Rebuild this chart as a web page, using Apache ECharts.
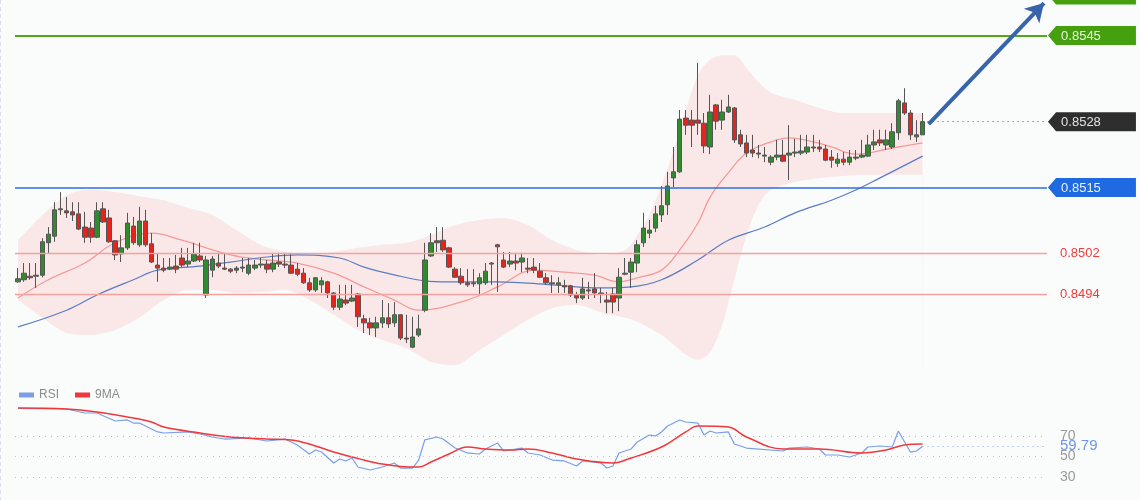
<!DOCTYPE html>
<html lang="en">
  <head>
    <meta charset="UTF-8" />
    <meta name="viewport" content="width=device-width, initial-scale=1.0" />
    <title>Candles with bands and RSI</title>
    <script src="https://cdn.jsdelivr.net/npm/echarts@6/dist/echarts.min.js"></script>
    <style>
      html,
      body {
        margin: 0;
        padding: 0;
        background: #fafcfc;
      }
      #app {
        width: 1140px;
        height: 500px;
      }
    </style>
  </head>
  <body>
    <div id="app"></div>

    <script>
      // candles, oldest first
      const open = [
        0.84964, 0.84968, 0.84975, 0.84975, 0.84977, 0.85041, 0.85054, 0.85106, 0.85104, 0.85102,
        0.85098, 0.85072, 0.8507, 0.85052, 0.85108, 0.8509, 0.85045, 0.85019, 0.85031, 0.85074,
        0.85037, 0.85084, 0.85039, 0.84997, 0.84991, 0.84989, 0.84995, 0.85011, 0.84999, 0.85005,
        0.85015, 0.84938, 0.84987, 0.85001, 0.84991, 0.84989, 0.84987, 0.84991, 0.84981, 0.84991,
        0.84997, 0.84999, 0.84989, 0.85003, 0.84999, 0.84997, 0.84989, 0.84981, 0.84962, 0.84948,
        0.84958, 0.84964, 0.84942, 0.84914, 0.84928, 0.84926, 0.8494, 0.84891, 0.84883, 0.84873,
        0.84883, 0.84893, 0.84883, 0.84899, 0.84853, 0.84835, 0.84859, 0.84908, 0.85015, 0.85045,
        0.85046, 0.85031, 0.84989, 0.84975, 0.84962, 0.84962, 0.8496, 0.84962, 0.84999, 0.85037,
        0.85007, 0.84999, 0.85005, 0.85003, 0.84991, 0.84993, 0.84985, 0.84972, 0.84962, 0.84958,
        0.84956, 0.84956, 0.84938, 0.84932, 0.84948, 0.8495, 0.84942, 0.84928, 0.8494, 0.84932,
        0.84979, 0.84983, 0.85001, 0.85041, 0.8506, 0.8507, 0.85096, 0.85116, 0.85169, 0.85181,
        0.85287, 0.85283, 0.85283, 0.85277, 0.8523, 0.85313, 0.85283, 0.85299, 0.85307, 0.85254,
        0.85238, 0.85224, 0.85218, 0.85214, 0.852, 0.8521, 0.85214, 0.85214, 0.85218, 0.85218,
        0.8522, 0.85228, 0.8523, 0.85226, 0.8521, 0.85198, 0.85206, 0.852, 0.85208, 0.8521,
        0.85212, 0.85234, 0.85244, 0.85234, 0.8523, 0.85258, 0.85317, 0.85297, 0.8525, 0.85254,
      ];
      const close = [
        0.8497, 0.84981, 0.84972, 0.84977, 0.85043, 0.85058, 0.85106, 0.85108, 0.851, 0.85096,
        0.85068, 0.85052, 0.85052, 0.85104, 0.85082, 0.85043, 0.85017, 0.85031, 0.8508, 0.85041,
        0.85084, 0.85037, 0.85003, 0.84991, 0.84987, 0.84993, 0.84989, 0.84997, 0.85005, 0.85019,
        0.85007, 0.85007, 0.85009, 0.84995, 0.84989, 0.84985, 0.84991, 0.84993, 0.84997, 0.84997,
        0.84999, 0.84989, 0.85001, 0.84999, 0.84997, 0.84981, 0.84979, 0.84962, 0.84948, 0.84972,
        0.84966, 0.84942, 0.84914, 0.8493, 0.84922, 0.84932, 0.84895, 0.84883, 0.84873, 0.84883,
        0.84893, 0.84881, 0.84899, 0.84853, 0.84851, 0.84855, 0.84871, 0.85007, 0.85041, 0.85041,
        0.85027, 0.84993, 0.84973, 0.84962, 0.84958, 0.8496, 0.84972, 0.84985, 0.85001, 0.85033,
        0.84993, 0.85005, 0.85001, 0.85011, 0.84989, 0.84987, 0.84973, 0.84962, 0.8496, 0.84962,
        0.84954, 0.84938, 0.84932, 0.8495, 0.84946, 0.84942, 0.8494, 0.84924, 0.84924, 0.84973,
        0.84981, 0.85003, 0.85037, 0.8507, 0.85066, 0.85098, 0.85114, 0.85153, 0.85181, 0.85285,
        0.85273, 0.85273, 0.85277, 0.85232, 0.85299, 0.85281, 0.85299, 0.85309, 0.85244, 0.85236,
        0.85218, 0.85218, 0.85216, 0.85212, 0.8521, 0.85214, 0.85202, 0.85218, 0.8522, 0.85222,
        0.8523, 0.8523, 0.85226, 0.85204, 0.85204, 0.85206, 0.852, 0.8521, 0.8521, 0.85214,
        0.85234, 0.8524, 0.85238, 0.85244, 0.8526, 0.85321, 0.85297, 0.85254, 0.85254, 0.8528,
      ];
      const low = [
        0.84962, 0.84964, 0.84968, 0.84952, 0.84973, 0.85021, 0.85043, 0.85096, 0.8509, 0.85084,
        0.85066, 0.85041, 0.85041, 0.8505, 0.8508, 0.85041, 0.85007, 0.85003, 0.85027, 0.85037,
        0.85033, 0.85033, 0.85001, 0.84964, 0.84983, 0.84987, 0.84981, 0.84993, 0.84993, 0.85003,
        0.85003, 0.84932, 0.84973, 0.84991, 0.84987, 0.84981, 0.84981, 0.84983, 0.84977, 0.84987,
        0.84991, 0.84981, 0.84983, 0.84993, 0.84991, 0.84979, 0.84975, 0.8496, 0.84944, 0.84944,
        0.84942, 0.84932, 0.84908, 0.84908, 0.84918, 0.84924, 0.84875, 0.84863, 0.84859, 0.84855,
        0.84873, 0.84873, 0.84875, 0.84849, 0.84843, 0.84833, 0.84855, 0.84904, 0.85013, 0.85023,
        0.85023, 0.84991, 0.84972, 0.84958, 0.84954, 0.84954, 0.8494, 0.84958, 0.84958, 0.84944,
        0.84991, 0.84993, 0.84987, 0.84983, 0.84981, 0.84981, 0.84972, 0.84958, 0.84942, 0.84942,
        0.84942, 0.84934, 0.84922, 0.84928, 0.8493, 0.84932, 0.84922, 0.84902, 0.84902, 0.84906,
        0.84977, 0.84952, 0.84983, 0.85033, 0.8505, 0.85062, 0.85082, 0.85096, 0.85151, 0.85179,
        0.85254, 0.8523, 0.85254, 0.85218, 0.85216, 0.85264, 0.85264, 0.85297, 0.85238, 0.8523,
        0.8521, 0.8521, 0.85208, 0.852, 0.85194, 0.85204, 0.852, 0.85165, 0.8521, 0.85214,
        0.85216, 0.8522, 0.8522, 0.85202, 0.85189, 0.85191, 0.85194, 0.85194, 0.85204, 0.85208,
        0.8521, 0.85224, 0.85232, 0.85224, 0.85226, 0.85244, 0.85293, 0.85244, 0.8524, 0.85254,
      ];
      const high = [
        0.84991, 0.85001, 0.85001, 0.85001, 0.8505, 0.85072, 0.85121, 0.85141, 0.85131, 0.85121,
        0.85121, 0.85102, 0.85082, 0.85121, 0.85121, 0.85106, 0.85046, 0.85056, 0.851, 0.85092,
        0.85112, 0.85106, 0.8506, 0.85019, 0.85011, 0.85011, 0.85017, 0.85031, 0.85031, 0.85041,
        0.85041, 0.85015, 0.85015, 0.85021, 0.85021, 0.84991, 0.84995, 0.85011, 0.85011, 0.85007,
        0.85011, 0.85007, 0.85021, 0.85021, 0.85021, 0.85021, 0.85001, 0.84991, 0.84972, 0.84973,
        0.84973, 0.84966, 0.84944, 0.84958, 0.84958, 0.84958, 0.84942, 0.84899, 0.84893, 0.84895,
        0.84928, 0.84922, 0.84924, 0.849, 0.84899, 0.84895, 0.84899, 0.85041, 0.8506, 0.85072,
        0.85072, 0.85033, 0.84993, 0.84991, 0.84989, 0.84989, 0.84981, 0.85001, 0.85003, 0.85039,
        0.85023, 0.85023, 0.85021, 0.85021, 0.85011, 0.85011, 0.85001, 0.84981, 0.84977, 0.84973,
        0.84968, 0.84958, 0.84944, 0.84972, 0.84964, 0.84981, 0.84952, 0.84944, 0.84952, 0.84991,
        0.85011, 0.85011, 0.85046, 0.851, 0.85086, 0.85114, 0.85153, 0.85181, 0.8523, 0.85303,
        0.85303, 0.85303, 0.85396, 0.85297, 0.85333, 0.85315, 0.85323, 0.85333, 0.85309, 0.85264,
        0.85254, 0.85254, 0.85234, 0.8523, 0.85214, 0.85244, 0.85244, 0.85273, 0.85246, 0.85254,
        0.85254, 0.85254, 0.85244, 0.85234, 0.85224, 0.85218, 0.8522, 0.85224, 0.85224, 0.85244,
        0.85254, 0.85264, 0.85264, 0.85264, 0.85277, 0.85325, 0.85346, 0.85303, 0.85283, 0.85297,
      ];

      // bollinger band read at every few candles
      const bandIdx = [
        0, 4, 8, 12, 16, 20, 24, 28, 32, 36, 40, 44, 48, 52, 56, 60, 64, 68, 72, 76, 80, 84, 88, 92,
        96, 100, 102, 104, 106, 108, 110, 112, 114, 116, 118, 120, 122, 124, 128, 132, 136, 140,
        144, 149,
      ];
      const bandUpper = [
        0.85046, 0.85096, 0.85135, 0.85145, 0.85141, 0.85133, 0.85125, 0.8511, 0.85096, 0.85066,
        0.85037, 0.85023, 0.85017, 0.85023, 0.85031, 0.85037, 0.85041, 0.85056, 0.85076, 0.85086,
        0.8509, 0.85076, 0.85046, 0.85027, 0.85017, 0.85027, 0.85056, 0.85096, 0.85155, 0.85224,
        0.85303, 0.85372, 0.85402, 0.85411, 0.85411, 0.85386, 0.85358, 0.85337, 0.85323, 0.85307,
        0.85297, 0.85297, 0.85297, 0.85297,
      ];
      const bandLower = [
        0.84928, 0.84893, 0.84863, 0.84859, 0.84869, 0.84893, 0.84928, 0.84948, 0.84948, 0.84942,
        0.84944, 0.84948, 0.84928, 0.84899, 0.84869, 0.84849, 0.84833, 0.84806, 0.848, 0.84829,
        0.84859, 0.84889, 0.84912, 0.84918, 0.84904, 0.84893, 0.84885, 0.84873, 0.84859, 0.8484,
        0.8482, 0.8481, 0.84825, 0.84879, 0.84968, 0.85056, 0.85116, 0.85145, 0.85161, 0.85169,
        0.85173, 0.85175, 0.85175, 0.85175,
      ];

      // moving averages, [candle index, price]
      const maRed = [
        [0, 0.84932], [5, 0.84968], [11, 0.85001], [16, 0.85041], [22, 0.8506], [27, 0.85046],
        [35, 0.85017], [41, 0.85007], [46, 0.85001], [52, 0.84981], [57, 0.84954], [62, 0.84928],
        [66, 0.84908], [74, 0.84928], [79, 0.84954], [85, 0.84987], [90, 0.84983], [95, 0.84977],
        [99, 0.84964], [102, 0.84972], [106, 0.84987], [109, 0.85027], [112, 0.8508], [114, 0.85131],
        [117, 0.85179], [120, 0.85218], [124, 0.8524], [127, 0.85248], [131, 0.8524], [134, 0.8523],
        [138, 0.85216], [144, 0.85228], [149, 0.85238],
      ];
      const maBlue = [
        [0, 0.84875], [8, 0.84908], [13, 0.84938], [19, 0.84968], [23, 0.84987], [30, 0.84995],
        [35, 0.85003], [41, 0.85013], [46, 0.85017], [53, 0.85011], [57, 0.84993], [63, 0.84975],
        [67, 0.84966], [71, 0.84964], [79, 0.84964], [88, 0.84958], [96, 0.84952], [101, 0.84954],
        [106, 0.84968], [112, 0.85007], [117, 0.85046], [123, 0.85072], [128, 0.851], [134, 0.85125],
        [138, 0.85145], [142, 0.85169], [149, 0.85212],
      ];

      // rsi panel, [candle index, value]
      const rsi = [
        [0, 96.8], [8, 96.1], [11, 92.2], [13, 92.2], [16, 84.4], [18, 85.4], [19, 82.4], [20, 82.4],
        [23, 73.7], [24, 72.7], [28, 73.7], [30, 71.7], [32, 68.8], [34, 66.8], [38, 67.8], [41, 64.9],
        [44, 66.8], [46, 61.0], [48, 52.2], [49, 56.1], [50, 54.1], [52, 43.4], [53, 47.3], [54, 45.4],
        [55, 48.3], [56, 39.5], [58, 36.6], [60, 39.5], [62, 43.4], [63, 38.5], [65, 38.5], [66, 46.3],
        [67, 65.9], [69, 68.8], [70, 66.8], [72, 58.0], [74, 53.2], [76, 52.2], [77, 57.1], [79, 62.9],
        [80, 55.1], [82, 57.1], [83, 58.0], [84, 53.2], [86, 51.2], [88, 46.3], [90, 45.4], [92, 40.5],
        [93, 45.4], [96, 43.4], [97, 38.5], [98, 40.5], [99, 53.2], [101, 57.1], [102, 63.9], [104, 70.7],
        [105, 69.8], [106, 73.7], [107, 79.5], [109, 85.4], [110, 83.4], [112, 82.4], [113, 70.7],
        [114, 74.6], [115, 72.7], [117, 73.7], [118, 62.0], [120, 58.0], [126, 55.1], [127, 58.0],
        [130, 59.0], [132, 57.1], [133, 51.2], [135, 51.2], [137, 49.3], [139, 53.2], [140, 59.0],
        [142, 60.0], [144, 59.0], [145, 74.6], [147, 54.1], [148, 55.1], [149, 59.79],
      ];
      const rsiMa = [
        [0, 97.1], [8, 96.1], [13, 93.2], [19, 87.3], [22, 83.4], [24, 78.5], [30, 72.7], [35, 68.8],
        [41, 66.8], [45, 65.9], [49, 60.0], [52, 54.1], [57, 46.3], [60, 42.4], [63, 40.0], [66, 39.5],
        [68, 44.4], [71, 52.2], [74, 59.0], [77, 57.1], [81, 56.1], [84, 57.1], [88, 53.2], [92, 47.3],
        [98, 43.4], [101, 48.3], [106, 59.0], [110, 73.7], [112, 79.5], [117, 78.5], [120, 68.8],
        [126, 57.1], [132, 57.1], [139, 53.2], [143, 56.1], [146, 61.0], [149, 62.0],
      ];

      // levels
      const topGreen = 0.8552;
      const resistance = 0.8545;
      const lastPrice = 0.8528;
      const blueLevel = 0.8515;
      const redLevels = [0.8502, 0.8494];
      const rsiLevels = [70, 50, 30];
      const rsiLast = 59.79;

      const slotCount = 170;
      const slots = Array.from({ length: slotCount }, (_, i) => String(i));
      const lastIdx = open.length - 1;
      const edgeIdx = slotCount - 1;
      const xStart = -0.5;
      const xEnd = slotCount - 0.5;
      const candles = open.map((o, i) => [o, close[i], low[i], high[i]]);
      const font = "'Liberation Sans', Arial, sans-serif";
      const bg = "#fafcfc";

      function tag(value, fill, textColor, dy = 0, showText = true) {
        return {
          coord: [edgeIdx, value],
          symbol: "path://M0,9 L8,0 L87,0 L87,18 L8,18 Z",
          symbolSize: [88, 19],
          symbolOffset: [48, dy],
          itemStyle: { color: fill },
          label: {
            show: showText,
            formatter: value.toFixed(4),
            color: textColor,
            fontSize: 13,
            fontFamily: font,
            offset: [-11, 1],
          },
        };
      }

      // full width horizontal line across a panel
      function level(v, lineStyle, label) {
        return [
          { coord: [xStart, v], lineStyle: lineStyle, label: label || { show: false } },
          { coord: [xEnd, v] },
        ];
      }

      function redLabel(v) {
        return {
          show: true,
          position: "end",
          distance: 13,
          formatter: v.toFixed(4),
          color: "#f23b3b",
          fontSize: 13,
          fontFamily: font,
        };
      }

      function rsiLabel(v) {
        return {
          show: true,
          position: "end",
          distance: 13,
          formatter: String(v),
          color: "#9a9a9a",
          fontSize: 14,
          fontFamily: font,
        };
      }

      const main = { left: 15, right: 93, top: 0, height: 370 };
      const lower = { left: 15, right: 93, top: 405, height: 82 };

      const option = {
        backgroundColor: bg,
        animation: false,
        textStyle: { fontFamily: font },
        grid: [main, lower],
        legend: {
          left: 14,
          top: 384,
          data: ["RSI", "9MA"],
          icon: "rect",
          itemWidth: 15,
          itemHeight: 5,
          itemGap: 16,
          textStyle: { color: "#8a8a8a", fontSize: 12, fontFamily: font },
        },
        graphic: [
          {
            type: "line",
            shape: { x1: 0.5, y1: 0, x2: 0.5, y2: 500 },
            style: { stroke: "#d9dfec", lineDash: [4, 3], lineWidth: 1 },
          },
        ],
        xAxis: [
          { type: "category", gridIndex: 0, data: slots, boundaryGap: true, show: false },
          { type: "value", gridIndex: 0, min: xStart, max: xEnd, show: false },
          { type: "value", gridIndex: 1, min: xStart, max: xEnd, show: false },
        ],
        yAxis: [
          { type: "value", gridIndex: 0, min: 0.8479, max: 0.8552, show: false },
          { type: "value", gridIndex: 1, min: 20, max: 100, show: false },
        ],
        series: [
          {
            // upper band filled down, then the part under the lower band painted back
            name: "bandUpper",
            type: "line",
            xAxisIndex: 1,
            yAxisIndex: 0,
            smooth: 0.3,
            symbol: "none",
            silent: true,
            lineStyle: { opacity: 0 },
            areaStyle: { origin: "start", color: "rgba(250, 170, 170, 0.33)" },
            data: bandIdx.map((x, i) => [x, bandUpper[i]]),
            z: 1,
          },
          {
            name: "bandLower",
            type: "line",
            xAxisIndex: 1,
            yAxisIndex: 0,
            smooth: 0.3,
            symbol: "none",
            silent: true,
            lineStyle: { opacity: 0 },
            areaStyle: { origin: "start", color: bg, opacity: 1 },
            data: bandIdx.map((x, i) => [x, bandLower[i]]),
            z: 1,
          },
          {
            name: "maRed",
            type: "line",
            xAxisIndex: 1,
            yAxisIndex: 0,
            smooth: 0.4,
            symbol: "none",
            silent: true,
            lineStyle: { color: "#f49a9a", width: 1.3 },
            data: maRed,
            z: 2,
          },
          {
            name: "maBlue",
            type: "line",
            xAxisIndex: 1,
            yAxisIndex: 0,
            smooth: 0.4,
            symbol: "none",
            silent: true,
            lineStyle: { color: "#5a7cc4", width: 1.2 },
            data: maBlue,
            z: 2,
            markLine: {
              silent: true,
              symbol: ["none", "none"],
              label: { show: false },
              data: [
                level(resistance, { color: "#54a818", width: 2, type: "solid" }),
                level(blueLevel, { color: "#2c6fe6", width: 1.5, type: "solid" }),
                level(redLevels[0], { color: "#f7a0a0", width: 1.3, type: "solid" }, redLabel(redLevels[0])),
                level(redLevels[1], { color: "#f7a0a0", width: 1.3, type: "solid" }, redLabel(redLevels[1])),
              ],
            },
          },
          {
            name: "price",
            type: "candlestick",
            xAxisIndex: 0,
            yAxisIndex: 0,
            barWidth: 5,
            data: candles,
            z: 3,
            itemStyle: {
              color: "#2e8b2e",
              color0: "#e5241c",
              borderColor: "#555",
              borderColor0: "#555",
              borderWidth: 1,
            },
            markLine: {
              silent: true,
              symbol: ["none", "none"],
              label: { show: false },
              data: [
                [
                  { coord: [lastIdx, lastPrice], lineStyle: { color: "#555", width: 1, type: [1, 4] } },
                  { coord: [edgeIdx, lastPrice] },
                ],
                [
                  {
                    coord: [lastIdx + 1, 0.85275],
                    symbol: "none",
                    lineStyle: { color: "#3764aa", width: 4, type: "solid" },
                  },
                  { coord: [edgeIdx, 0.85514], symbol: "arrow", symbolSize: [16, 18] },
                ],
              ],
            },
            markPoint: {
              silent: true,
              data: [
                tag(topGreen, "#44a00e", "#eaf6dc", -5, false),
                tag(resistance, "#44a00e", "#eaf6dc"),
                tag(lastPrice, "#2e2e2e", "#e2e2e2"),
                tag(blueLevel, "#1f6ae0", "#e9f0ff"),
              ],
            },
          },
          {
            name: "RSI",
            type: "line",
            xAxisIndex: 2,
            yAxisIndex: 1,
            symbol: "none",
            color: "#7a9ee8",
            lineStyle: { color: "#7a9ee8", width: 1.2 },
            data: rsi,
            z: 3,
            markLine: {
              silent: true,
              symbol: ["none", "none"],
              label: { show: false },
              data: [
                level(rsiLevels[0], { color: "#b7b5dc", width: 1, type: [1, 5] }, rsiLabel(rsiLevels[0])),
                level(rsiLevels[1], { color: "#e8b4bc", width: 1, type: [1, 5] }, rsiLabel(rsiLevels[1])),
                level(rsiLevels[2], { color: "#e8b4bc", width: 1, type: [1, 5] }, rsiLabel(rsiLevels[2])),
                [
                  {
                    coord: [lastIdx, rsiLast],
                    lineStyle: { color: "#8fa9ec", width: 1, type: [1, 4] },
                    label: {
                      show: true,
                      position: "end",
                      distance: 13,
                      formatter: rsiLast.toFixed(2),
                      color: "#6e95ea",
                      fontSize: 15,
                      fontFamily: font,
                    },
                  },
                  { coord: [xEnd, rsiLast] },
                ],
              ],
            },
          },
          {
            name: "9MA",
            type: "line",
            xAxisIndex: 2,
            yAxisIndex: 1,
            smooth: 0.4,
            symbol: "none",
            color: "#f0383c",
            lineStyle: { color: "#f0383c", width: 1.5 },
            data: rsiMa,
            z: 4,
          },
        ],
      };

      const chart = echarts.init(document.getElementById("app"));
      chart.setOption(option);
    </script>
  </body>
</html>
